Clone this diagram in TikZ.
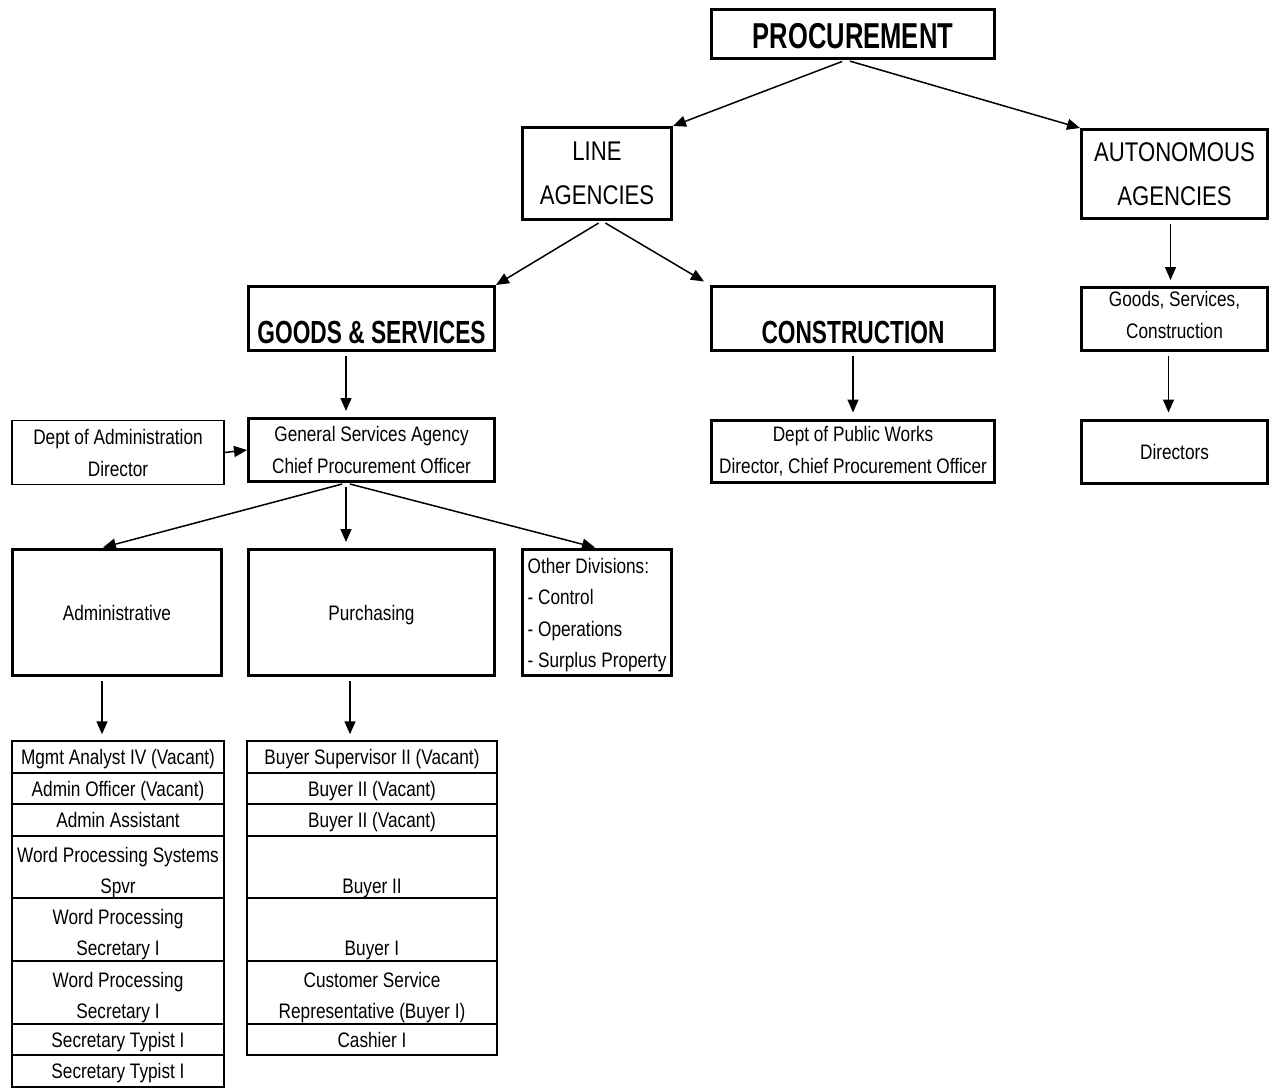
\documentclass[tikz,border=0pt]{standalone}
\usepackage{fontspec}
\setmainfont{Liberation Sans}[FakeStretch=0.82]
\newfontfamily\titlefont{Liberation Sans}[FakeStretch=0.71]
\usetikzlibrary{arrows.meta}
\tikzstyle{diredge} = [line width=1.5pt, ->, >={Triangle[length=13pt,width=11pt]},
  shorten <=4pt, shorten >=6pt]
\tikzstyle{title} = [draw, line width=3pt, inner sep=2pt, align=center,
  font=\titlefont\bfseries\fontsize{32}{38}\selectfont]
\tikzstyle{group} = [draw, line width=3pt, inner sep=2pt, align=center,
  font=\fontsize{27}{44}\selectfont]
\tikzstyle{unit} = [draw, line width=3pt, inner sep=2pt, align=center,
  font=\fontsize{21}{32}\selectfont]
\tikzstyle{cell} = [draw, line width=1.5pt, inner sep=0pt, align=center,
  font=\fontsize{21}{31}\selectfont]
\tikzstyle{oneline} = [text height=15pt, text depth=0pt]
\tikzstyle{twoline} = [text height=52pt, text depth=0pt]

\begin{document}
\begin{tikzpicture}[x=1pt, y=-1pt]
    \useasboundingbox (0,0) rectangle (1271,1089);
    % top levels
    \node[title,font=\titlefont\bfseries\fontsize{36}{40}\selectfont,
        minimum width=283pt,minimum height=49pt,text height=30pt,text depth=0pt]
        (proc) at (853,34) {PROCUREMENT};
    \node[group,minimum width=149pt,minimum height=92pt] (line) at (597,173.5)
        {LINE\\AGENCIES};
    \node[group,minimum width=186pt,minimum height=89pt] (auto) at (1174.5,174)
        {AUTONOMOUS\\AGENCIES};
    \node[title,minimum width=246pt,minimum height=64pt,text height=49pt,text depth=0pt]
        (goods) at (371.5,318.5) {GOODS \& SERVICES};
    \node[title,minimum width=283pt,minimum height=64pt,text height=49pt,text depth=0pt]
        (cons) at (853,318.5) {CONSTRUCTION};
    \node[unit,minimum width=186pt,minimum height=63pt,text height=39pt,text depth=0pt]
        (gsc) at (1174.5,319) {Goods, Services,\\Construction};
    \node[unit,oneline,minimum width=186pt,minimum height=63pt] (dirs) at (1174.5,451.5)
        {Directors};
    \node[unit,minimum width=246pt,minimum height=63pt] (gsa) at (371.5,450)
        {General Services Agency\\Chief Procurement Officer};
    \node[unit,minimum width=283pt,minimum height=62pt] (dpw) at (853,451)
        {Dept of Public Works\\Director, Chief Procurement Officer};
    \node[unit,line width=1.5pt,minimum width=212pt,minimum height=64pt] (doa) at (118,452.5)
        {Dept of Administration\\Director};
    % divisions
    \node[unit,oneline,minimum width=209pt,minimum height=126pt] (admin) at (117,612.5)
        {Administrative};
    \node[unit,oneline,minimum width=246pt,minimum height=126pt] (purch) at (371.5,612.5)
        {Purchasing};
    \node[unit,minimum width=149pt,minimum height=126pt,align=left,
        text height=110pt,text depth=0pt,font=\fontsize{21}{31.5}\selectfont]
        (other) at (597,612.5)
        {Other Divisions:\\- Control\\- Operations\\- Surplus Property};
    % administrative staff
    \node[cell,oneline,minimum width=212pt,minimum height=32pt] (a1) at (118,757) {Mgmt Analyst IV (Vacant)};
    \node[cell,oneline,minimum width=212pt,minimum height=31pt] (a2) at (118,788.5) {Admin Officer (Vacant)};
    \node[cell,oneline,minimum width=212pt,minimum height=32pt] (a3) at (118,820) {Admin Assistant};
    \node[cell,twoline,minimum width=212pt,minimum height=62pt] (a4) at (118,867)
        {Word Processing Systems\\Spvr};
    \node[cell,twoline,minimum width=212pt,minimum height=63pt] (a5) at (118,929.5)
        {Word Processing\\Secretary I};
    \node[cell,twoline,minimum width=212pt,minimum height=63pt] (a6) at (118,992.5)
        {Word Processing\\Secretary I};
    \node[cell,oneline,minimum width=212pt,minimum height=31pt] (a7) at (118,1039.5) {Secretary Typist I};
    \node[cell,oneline,minimum width=212pt,minimum height=32pt] (a8) at (118,1071) {Secretary Typist I};
    % purchasing staff
    \node[cell,oneline,minimum width=250pt,minimum height=32pt] (b1) at (372,757) {Buyer Supervisor II (Vacant)};
    \node[cell,oneline,minimum width=250pt,minimum height=31pt] (b2) at (372,788.5) {Buyer II (Vacant)};
    \node[cell,oneline,minimum width=250pt,minimum height=32pt] (b3) at (372,820) {Buyer II (Vacant)};
    \node[cell,twoline,minimum width=250pt,minimum height=62pt] (b4) at (372,867) {\strut\\Buyer II};
    \node[cell,twoline,minimum width=250pt,minimum height=63pt] (b5) at (372,929.5) {\strut\\Buyer I};
    \node[cell,twoline,minimum width=250pt,minimum height=63pt] (b6) at (372,992.5)
        {Customer Service\\Representative (Buyer I)};
    \node[cell,oneline,minimum width=250pt,minimum height=31pt] (b7) at (372,1039.5) {Cashier I};
    % connectors
    \draw[diredge,shorten >=0pt] ([xshift=-7pt]proc.south) -- (line.north east);
    \draw[diredge,shorten >=0pt] ([xshift=-7pt]proc.south) -- (auto.north west);
    \draw[diredge,shorten >=0pt] ([xshift=5pt]line.south) -- (goods.north east);
    \draw[diredge,shorten >=7pt] ([xshift=5pt]line.south) -- (cons.north west);
    \draw[diredge] ([xshift=-4pt]auto.south) -- ([xshift=-4pt]gsc.north);
    \draw[diredge] ([xshift=-6pt]gsc.south) -- ([xshift=-6pt]dirs.north);
    \draw[diredge] ([xshift=-25.5pt]goods.south) -- ([xshift=-25.5pt]gsa.north);
    \draw[diredge] (cons.south) -- (dpw.north);
    \draw[diredge,shorten <=0pt,shorten >=0pt] (doa.east) -- (gsa.west);
    \draw[diredge,shorten >=2pt] ([xshift=-25.5pt]gsa.south) -- ([xshift=-16pt]admin.north);
    \draw[diredge] ([xshift=-25.5pt]gsa.south) -- ([xshift=-25.5pt]purch.north);
    \draw[diredge,shorten >=2pt] ([xshift=-25.5pt]gsa.south) -- (other.north);
    \draw[diredge] ([xshift=-15pt]admin.south) -- ([xshift=-16pt]a1.north);
    \draw[diredge] ([xshift=-21.5pt]purch.south) -- ([xshift=-22pt]b1.north);
\end{tikzpicture}
\end{document}
